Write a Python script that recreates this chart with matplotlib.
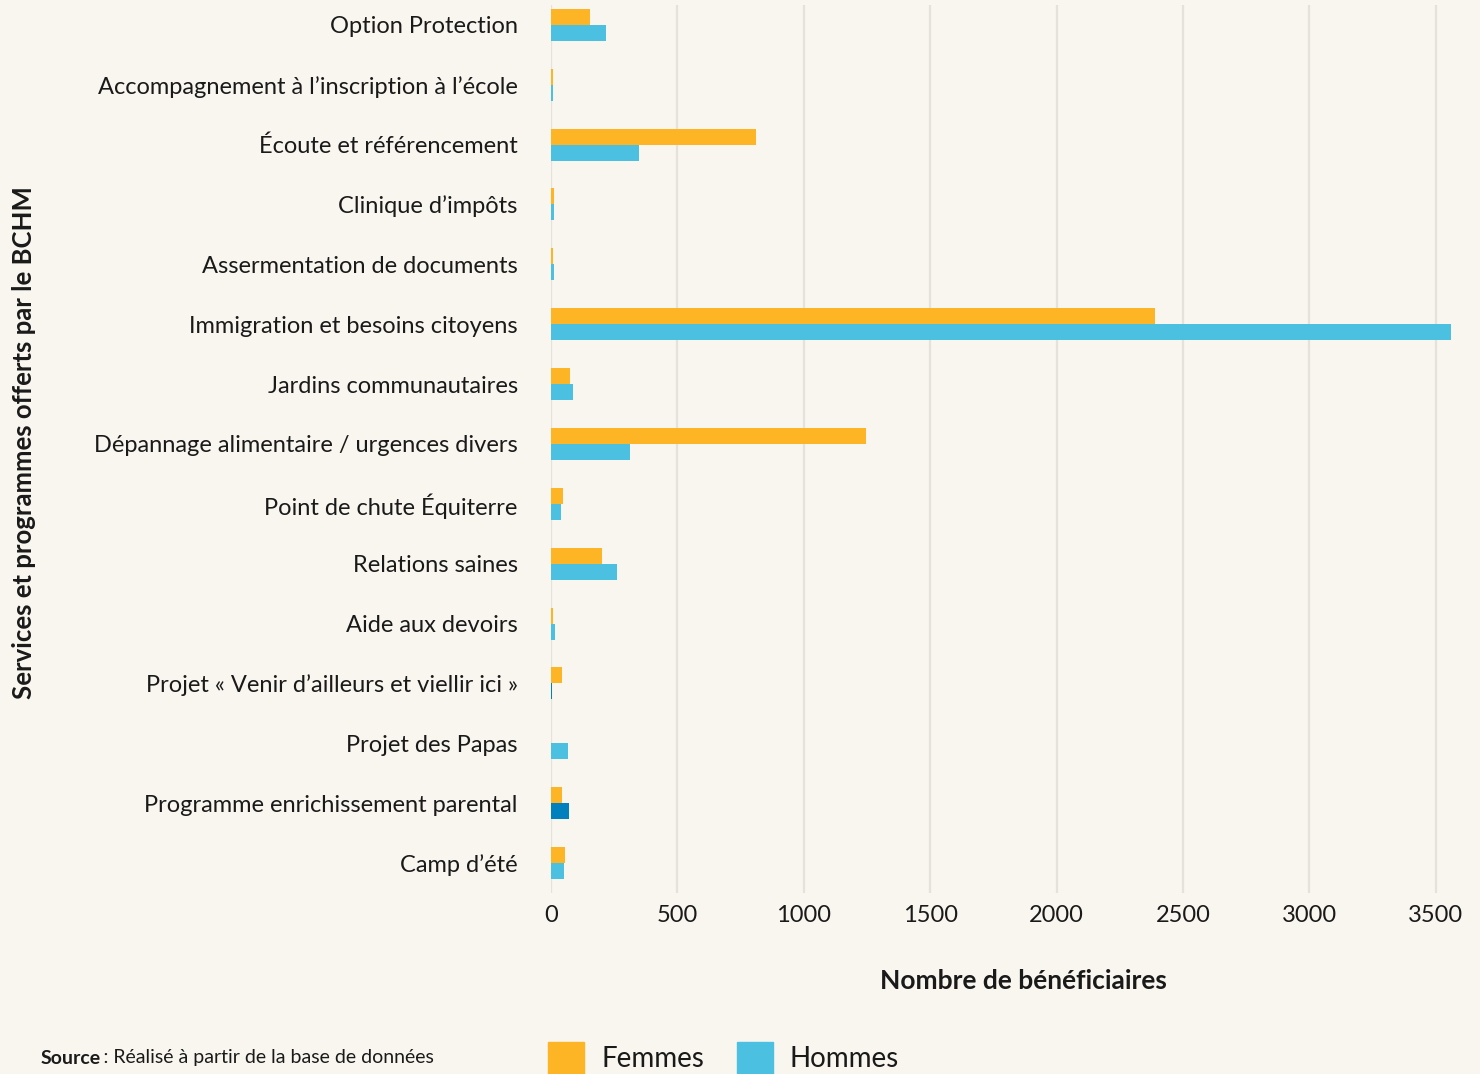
import numpy as np
import matplotlib.pyplot as plt
from matplotlib.patches import Rectangle

services = [
    "Option Protection",
    "Accompagnement à l\u2019inscription à l\u2019école",
    "Écoute et référencement",
    "Clinique d\u2019impôts",
    "Assermentation de documents",
    "Immigration et besoins citoyens",
    "Jardins communautaires",
    "Dépannage alimentaire / urgences divers",
    "Point de chute Équiterre",
    "Relations saines",
    "Aide aux devoirs",
    "Projet «\u202fVenir d\u2019ailleurs et viellir ici\u202f»",
    "Projet des Papas",
    "Programme enrichissement parental",
    "Camp d\u2019été",
]
femmes = [154, 8, 811, 12, 8, 2389, 75, 1246, 48, 202, 8, 44, 1, 44, 55]
hommes = [218, 8, 348, 12, 12, 3560, 87, 312, 40, 261, 16, 4, 67, 71, 51]
hommes_dark = [False] * 11 + [True, False, True, False]
legend_labels = ["Femmes", "Hommes"]

orange = "#FDB525"
blue = "#4BC0E0"
dark_blue = "#0080BD"
bg = "#F9F6EF"
ink = "#1a1a1a"

plt.rcParams['font.family'] = ['Lato', 'DejaVu Sans']

fig = plt.figure(figsize=(14.8, 10.74), dpi=100, facecolor=bg)
ax = fig.add_axes([551 / 1480, 1 - 893 / 1074, 910 / 1480, 888 / 1074])
ax.set_facecolor(bg)

y = np.arange(len(services))
h = 0.267
ax.barh(y - h / 2, femmes, height=h, color=orange, zorder=3)
ax.barh(y + h / 2, hommes, height=h,
        color=[dark_blue if d else blue for d in hommes_dark], zorder=3)

ax.set_ylim(len(services) - 0.5, -0.33)
ax.set_xlim(0, 3600)
ax.set_xticks(np.arange(0, 3501, 500))
ax.set_xticklabels(["0", "500", "1000", "1500", "2000", "2500", "3000", "3500"])
ax.set_yticks(y)
ax.set_yticklabels(services, fontsize=17, color=ink)
ax.tick_params(axis="x", labelsize=17, colors=ink, length=0, pad=9)
ax.tick_params(axis="y", length=0, pad=24)
ax.grid(axis="x", color="#E5E2DC", linewidth=1.6, zorder=0)
for s in ax.spines.values():
    s.set_visible(False)

ax.set_xlabel("Nombre de bénéficiaires", fontsize=19, fontweight="bold", color=ink)
ax.xaxis.set_label_coords((1023 - 551) / 910, -(981 - 893) / 888)
ax.xaxis.label.set_va("center")
fig.text(24 / 1480, 1 - 443 / 1074, "Services et programmes offerts par le BCHM",
         rotation=90, ha="center", va="center", fontsize=18.5,
         fontweight="bold", color=ink)

# legend at the bottom, partly cut by the figure edge as in the original
for x0, col, lab in [(548, orange, legend_labels[0]), (737, blue, legend_labels[1])]:
    fig.patches.append(Rectangle((x0 / 1480, 0), 36 / 1480, 32 / 1074,
                                 transform=fig.transFigure, color=col))
    fig.text((x0 + 53) / 1480, 1 - 1059 / 1074, lab, fontsize=20,
             va="center", color=ink)

src = fig.text(41 / 1480, 1 - 1058 / 1074, "Source", fontsize=14,
               fontweight="bold", va="center", color=ink)
fig.canvas.draw()
bb = src.get_window_extent()
fig.text(bb.x1 / 1480, 1 - 1058 / 1074, "\u2009: Réalisé à partir de la base de données",
         fontsize=14, va="center", color=ink)

fig.savefig("out.png", dpi=100, facecolor=bg)
